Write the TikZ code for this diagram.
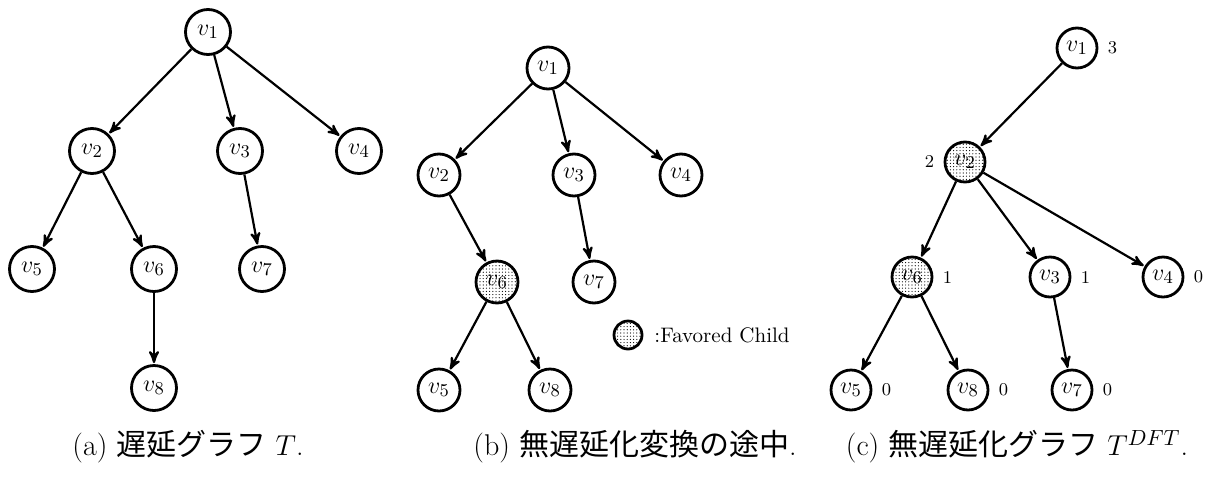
\documentclass[tikz,border=0pt]{standalone}
\usepackage{amsmath}
\usepackage{fontspec}
\newfontfamily\jpfont{Noto Sans CJK JP}
\usepackage{tikz}
\usetikzlibrary{arrows,positioning,patterns.meta}
\tikzset{
    %Define standard arrow tip
    >=stealth',
    %Define style for tree vertices
    vert/.style={
           circle,
           draw=black, line width=1.4pt,
           minimum size=22.5pt,
           inner sep=0pt,
           font=\fontsize{12.5}{14}\selectfont,
           text centered},
    %Define style for the favored child
    favored/.style={
           vert,
           pattern={Dots[distance=1.6pt,radius=0.3pt]}},
    %weights beside the vertices
    wt/.style={
           font=\small,
           inner sep=1pt},
    caption/.style={
           font=\fontsize{15}{18}\selectfont},
    % Define arrow style
    pil/.style={
           ->,
           line width=1.1pt,
           shorten >=0.5pt}
}
\begin{document}
\begin{tikzpicture}[x=0.5pt,y=-0.5pt]
\useasboundingbox (0,0) rectangle (1209,477);
% (a) delay graph
\node[vert](a1) at (208,32){$v_1$};
\node[vert](a2) at (92,151){$v_2$};
\node[vert](a3) at (240,151){$v_3$};
\node[vert](a4) at (359,151){$v_4$};
\node[vert](a5) at (32,269){$v_5$};
\node[vert](a6) at (154,269){$v_6$};
\node[vert](a7) at (262,269){$v_7$};
\node[vert](a8) at (154,388){$v_8$};
\path[pil]
    (a1) edge (a2) edge (a3) edge (a4)
    (a2) edge (a5) edge (a6)
    (a3) edge (a7)
    (a6) edge (a8);
\node[caption](capa) at (188,447){(a) {\jpfont 遅延グラフ} $T$.};
% (b) halfway through the transformation
\begin{scope}[vert/.append style={minimum size=21pt}]
\node[vert](b1) at (548,68){$v_1$};
\node[vert](b2) at (439,175){$v_2$};
\node[vert](b3) at (574,175){$v_3$};
\node[vert](b4) at (681,175){$v_4$};
\node[favored](b6) at (497,282){$v_6$};
\node[vert](b7) at (594,282){$v_7$};
\node[vert](b5) at (439,390){$v_5$};
\node[vert](b8) at (550,390){$v_8$};
\path[pil]
    (b1) edge (b2) edge (b3) edge (b4)
    (b2) edge (b6)
    (b3) edge (b7)
    (b6) edge (b5) edge (b8);
\node[favored, minimum size=14pt](leg) at (628,335){};
\node[right=2pt of leg, font=\fontsize{10.5}{12}\selectfont](legtxt){:Favored Child};
\end{scope}
\node[caption](capb) at (635,447){(b) {\jpfont 無遅延化変換の途中}.};
% (c) delay-free graph
\begin{scope}[vert/.append style={minimum size=20pt}]
\node[vert](c1) at (1077,48){$v_1$};
\node[favored](c2) at (965,162){$v_2$};
\node[favored](c6) at (912,277){$v_6$};
\node[vert](c3) at (1050,277){$v_3$};
\node[vert](c4) at (1163,277){$v_4$};
\node[vert](c5) at (851,390){$v_5$};
\node[vert](c8) at (968,390){$v_8$};
\node[vert](c7) at (1072,390){$v_7$};
\path[pil]
    (c1) edge (c2)
    (c2) edge (c6) edge (c3) edge (c4)
    (c6) edge (c5) edge (c8)
    (c3) edge (c7);
\node[wt, right=3.5pt of c1](w1){3};
\node[wt, left=3.5pt of c2](w2){2};
\node[wt, right=3.5pt of c6](w6){1};
\node[wt, right=3.5pt of c3](w3){1};
\node[wt, right=3.5pt of c4](w4){0};
\node[wt, right=3.5pt of c5](w5){0};
\node[wt, right=3.5pt of c8](w8){0};
\node[wt, right=3.5pt of c7](w7){0};
\end{scope}
\node[caption](capc) at (1017,447){(c) {\jpfont 無遅延化グラフ} $T^{DFT}$.};
\end{tikzpicture}
\end{document}
